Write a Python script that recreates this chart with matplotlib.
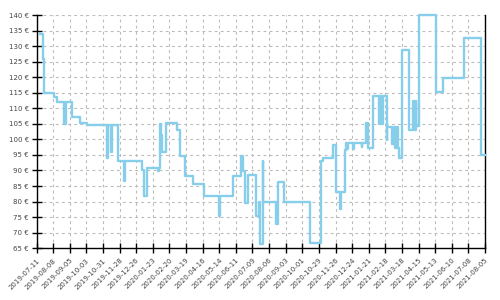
import numpy as np
import pandas as pd
import matplotlib
matplotlib.use('Agg')
import matplotlib.pyplot as plt
import matplotlib.dates as mdates
from matplotlib.ticker import FuncFormatter

# price history (value holds until the next change)
dates = [
    '2019-07-17', '2019-07-22', '2019-07-23', '2019-08-10', '2019-08-15',
    '2019-08-27', '2019-08-29', '2019-09-09', '2019-09-23', '2019-10-04',
    '2019-11-07', '2019-11-09', '2019-11-14', '2019-11-16', '2019-11-26',
    '2019-12-06', '2019-12-08', '2020-01-05', '2020-01-08', '2020-01-13',
    '2020-02-01', '2020-02-03', '2020-02-05', '2020-02-06', '2020-02-07',
    '2020-02-14', '2020-03-04', '2020-03-09', '2020-03-17', '2020-03-30',
    '2020-04-18', '2020-05-14', '2020-05-16', '2020-06-07', '2020-06-20',
    '2020-06-23', '2020-06-26', '2020-07-02', '2020-07-15', '2020-07-20',
    '2020-07-22', '2020-07-26', '2020-07-27', '2020-08-18', '2020-08-21',
    '2020-09-01', '2020-10-14', '2020-11-01', '2020-11-05', '2020-11-21',
    '2020-11-26', '2020-12-04', '2020-12-05', '2020-12-12', '2020-12-14',
    '2020-12-15', '2020-12-17', '2020-12-26', '2020-12-28', '2021-01-09',
    '2021-01-10', '2021-01-17', '2021-01-20', '2021-01-29', '2021-02-07',
    '2021-02-09', '2021-02-12', '2021-02-14', '2021-02-20', '2021-02-21',
    '2021-03-01', '2021-03-05', '2021-03-07', '2021-03-09', '2021-03-11',
    '2021-03-13', '2021-03-18', '2021-03-30', '2021-04-06', '2021-04-08',
    '2021-04-10', '2021-04-11', '2021-04-15', '2021-05-14', '2021-05-26',
    '2021-06-30', '2021-07-29', '2021-08-05',
]
prices = [
    134, 126, 115, 113.7, 112,
    105.1, 112, 107.3, 105.4, 104.6,
    94.1, 104.6, 96.1, 104.6, 93,
    86.6, 93, 90, 81.7, 90.9,
    89.8, 90.9, 104.9, 101.3, 96.1,
    105.2, 103, 94.6, 88.2, 85.8,
    81.8, 75.4, 81.8, 88.2, 94.6,
    89.8, 79.5, 88.4, 75.4, 79.7,
    66.4, 93.2, 79.8, 72.7, 86.3,
    79.8, 66.8, 93, 94.1, 98.1,
    83.1, 77.6, 83.1, 96.5, 98.7,
    96.8, 98.7, 96.8, 98.7, 97.5,
    98.7, 105.2, 97.2, 114.1, 104.9,
    114.1, 104.9, 114.1, 99.7, 104.1,
    98.4, 104.1, 97.3, 104.1, 97.3,
    94.1, 128.9, 103, 112.4, 103,
    112.4, 104.4, 140, 115.2, 119.8,
    132.6, 94.9, 94.9,
]

x_start = '2019-07-11'
x_end = '2021-08-05'
tick_dates = pd.date_range(x_start, x_end, freq='28D')
y_ticks = np.arange(65, 141, 5)

fig = plt.figure(figsize=(5, 3), dpi=100)
ax = fig.add_axes([0.073, 0.173, 0.897, 0.776])

x = pd.to_datetime(dates)
ax.step(x, prices, where='post', color='#87ceeb', lw=1.7, clip_on=False, zorder=3)

ax.set_xlim(pd.Timestamp(x_start), pd.Timestamp(x_end))
ax.set_ylim(65, 140)
ax.set_xticks(tick_dates)
ax.xaxis.set_major_formatter(mdates.DateFormatter('%Y-%m-%d'))
ax.set_yticks(y_ticks)
ax.yaxis.set_major_formatter(FuncFormatter(lambda v, p: f'{v:.0f} €'))

ax.grid(True, color='#bbbbbb', ls=(0, (2.5, 3)), lw=0.8)
ax.set_axisbelow(True)

for s in ['left', 'bottom', 'right']:
    ax.spines[s].set_color('black')
    ax.spines[s].set_linewidth(1)
ax.spines['top'].set_visible(False)

ax.tick_params(axis='both', direction='inout', length=7, width=1, color='black',
               labelsize=5, labelcolor='#444444')
ax.tick_params(axis='x', pad=3)
ax.tick_params(axis='y', pad=2)
plt.setp(ax.get_xticklabels(), rotation=45, ha='right', rotation_mode='anchor')

fig.savefig('out.png', dpi=100)
